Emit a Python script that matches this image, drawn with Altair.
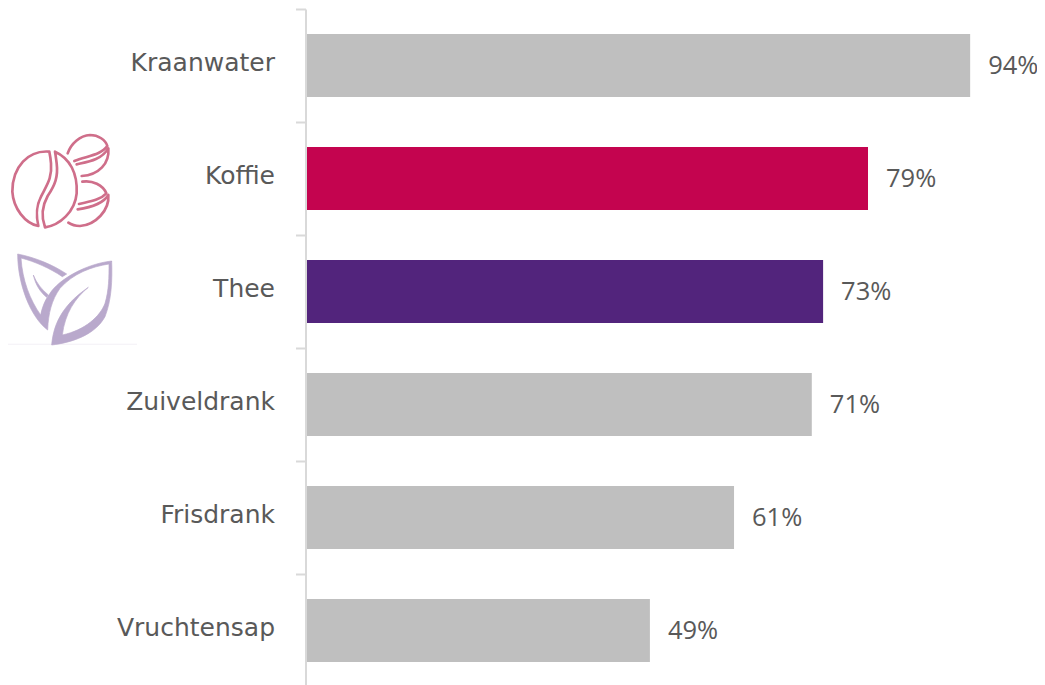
import base64
import altair as alt
import pandas as pd

categories = ["Kraanwater", "Koffie", "Thee", "Zuiveldrank", "Frisdrank", "Vruchtensap"]
values = [93.8, 79.35, 73.0, 71.4, 60.4, 48.5]
labels = ["94%", "79%", "73%", "71%", "61%", "49%"]
colors = ["#BFBFBF", "#C4044F", "#52247C", "#BFBFBF", "#BFBFBF", "#BFBFBF"]
TEXT = "#595959"
LINE = "#D9D9D9"

COFFEE = """<svg xmlns='http://www.w3.org/2000/svg' viewBox='0 0 330 306'>
<g fill='none' stroke='#CF6E8A' stroke-width='8' stroke-linejoin='round' stroke-linecap='round'>
<path d='M133 65 C70 60 22 110 22 185 C25 235 60 280 100 288 C95 265 90 235 108 200 C125 165 142 145 138 100 C137 85 135 75 133 65 Z'/>
<path d='M150 65 C195 85 218 130 215 190 C210 245 165 285 120 292 C110 265 110 230 128 198 C150 165 160 140 155 100 C153 85 152 75 150 65 Z'/>
<path d='M188 70 C198 40 225 17 255 15 C280 15 302 30 307 48 C289 75 245 78 208 93'/>
<path d='M215 103 C250 95 289 90 310 55 C314 100 282 135 230 138'/>
<path d='M232 155 C262 150 294 165 304 190 C284 212 250 215 222 222'/>
<path d='M218 238 C260 232 294 222 310 195 C314 240 272 285 225 288 C210 288 200 285 190 278'/>
</g></svg>"""

TEA = """<svg xmlns='http://www.w3.org/2000/svg' viewBox='0 0 399 294'>
<path fill='#F3F0F6' d='M3 281 H396 V284 H3 Z'/>
<g fill='#B9A9CC' stroke='#B9A9CC' stroke-width='2' stroke-linejoin='round'>
<path d='M320 33 C322 90 320 150 300 200 C270 255 200 278 140 285 C145 230 165 170 250 112 C210 145 180 190 172 255 C240 240 285 200 300 160 C312 120 312 80 312 42 Z'/>
<path d='M320 33 L312 42 C260 50 205 70 165 115 C140 150 130 190 128 240 C75 200 38 100 38 12 C90 22 145 45 185 72 L172 80 C135 55 90 35 48 24 C52 90 75 150 107 195 C112 170 120 150 135 130 C160 90 240 42 320 33 Z'/>
<path d='M85 75 C95 100 110 118 130 135 L125 142 C105 125 92 105 85 75 Z'/>
</g></svg>"""


def data_url(svg):
    return "data:image/svg+xml;base64," + base64.b64encode(svg.encode()).decode()


df = pd.DataFrame({"cat": categories, "value": values, "label": labels, "color": colors})

y = alt.Y(
    "cat:N",
    sort=categories,
    title=None,
    scale=alt.Scale(paddingInner=0.442, paddingOuter=0.221),
    axis=alt.Axis(
        offset=1.5,
        tickSize=10,
        tickWidth=2,
        tickColor=LINE,
        tickOffset=-56.5,
        domainColor=LINE,
        domainWidth=2,
        labelColor=TEXT,
        labelFont="DejaVu Sans",
        labelFontSize=25,
        labelPadding=21,
        labelOffset=53.5,
        labelLimit=300,
    ),
)
x = alt.X("value:Q", title=None, scale=alt.Scale(domain=[0, 100], nice=False), axis=None)

bars = alt.Chart(df).mark_bar(size=63).encode(
    x=x,
    y=y,
    color=alt.Color("color:N", scale=None, legend=None),
)
text = alt.Chart(df).mark_text(
    align="left", baseline="middle", dx=18, font="Open Sans", fontSize=25.5, color=TEXT
).encode(x=x, y=y, text="label:N")

coffee = alt.Chart(pd.DataFrame({"url": [data_url(COFFEE)]})).mark_image(
    align="left", baseline="top", width=110, height=102
).encode(url="url:N", x=alt.value(-302), y=alt.value(121))
tea = alt.Chart(pd.DataFrame({"url": [data_url(TEA)]})).mark_image(
    align="left", baseline="top", width=133, height=98
).encode(url="url:N", x=alt.value(-302), y=alt.value(241))

chart = (
    alt.layer(bars, text, coffee, tea)
    .properties(
        width=707,
        height=678,
        autosize=alt.AutoSizeParams(type="none"),
        padding={"left": 299, "top": 1, "right": 23, "bottom": 0},
    )
    .configure_view(stroke=None)
)

chart.save("out.html", embed_options={"renderer": "svg", "actions": False})
